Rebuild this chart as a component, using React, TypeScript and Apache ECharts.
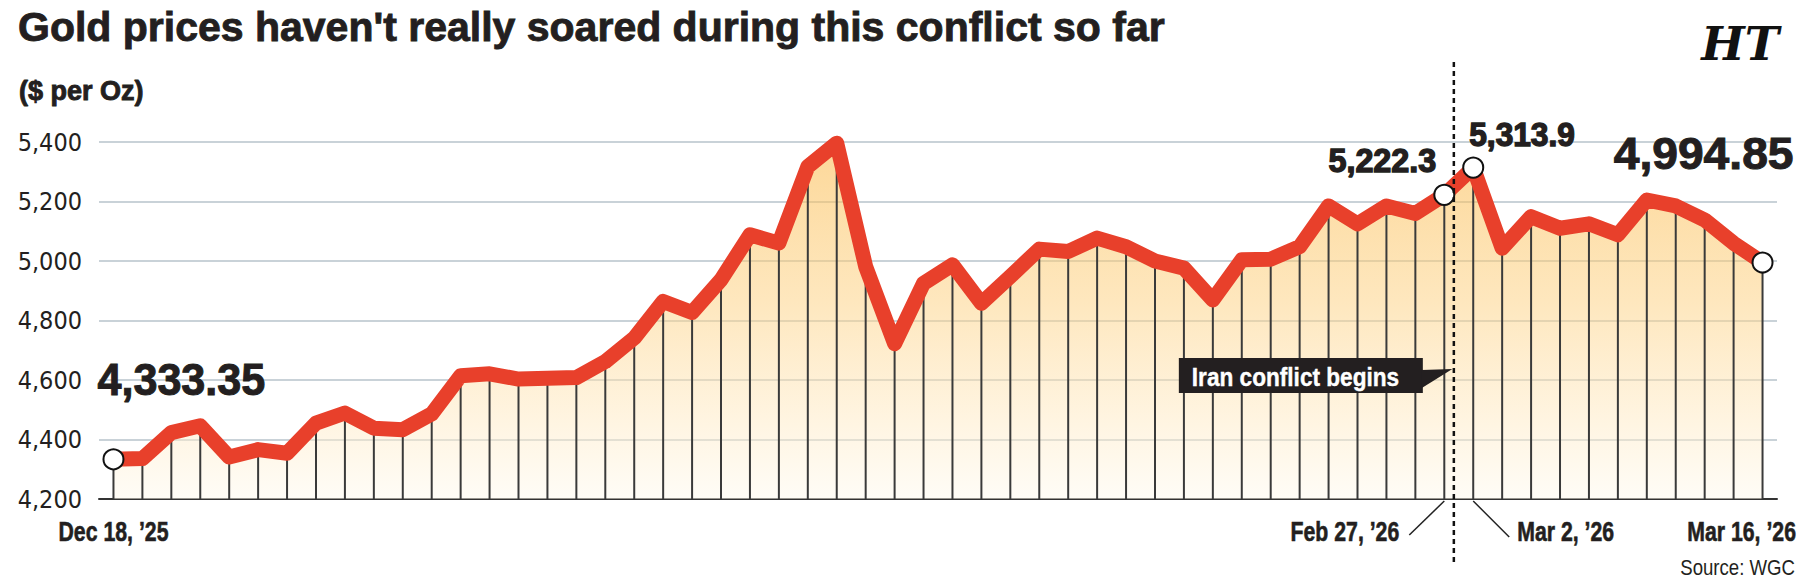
import React, { useEffect, useRef } from "react";
import * as echarts from "echarts";

// Gold price, $ per Oz, daily (Dec 18 '25 .. Mar 16 '26)
const prices: number[] = [
  4333.35, 4336, 4423, 4446, 4341, 4366, 4354, 4455, 4489, 4438,
  4433, 4486, 4614, 4621, 4603, 4606, 4608, 4662, 4741, 4864,
  4827, 4937, 5088, 5060, 5317, 5396, 4981, 4722, 4925, 4987,
  4858, 4948, 5040, 5032, 5077, 5048, 5000, 4976, 4869, 5004,
  5006, 5048, 5185, 5125, 5185, 5160, 5222.3, 5313.9, 5043, 5149,
  5110, 5125, 5088, 5205, 5185, 5138, 5060, 4994.85,
];
const categories: string[] = prices.map((_, i) => "day" + (i + 1));
const dateLabels: { index: number; text: string }[] = [
  { index: 0, text: "Dec 18, \u201925" },
  { index: 46, text: "Feb 27, \u201926" },
  { index: 47, text: "Mar 2, \u201926" },
  { index: 57, text: "Mar 16, \u201926" },
];
const highlighted: number[] = [0, 46, 47, 57];
const yTicks = { min: 4200, max: 5400, interval: 200 };

const TITLE = "Gold prices haven't really soared during this conflict so far";
const SUBTITLE = "($ per Oz)";
const ANNOTATION = "Iran conflict begins";
const SOURCE = "Source: WGC";

const WIDE = "'Liberation Sans', Arial, sans-serif";
const NARROW = "'DejaVu Sans Condensed', 'Liberation Sans Narrow', sans-serif";
const INK = "#231f20";

export default function App() {
  const ref = useRef<HTMLDivElement>(null);
  useEffect(() => {
    document.body.style.margin = "0";
    const chart = echarts.init(ref.current!, null, { renderer: "svg" });

    const option: any = {
      animation: false,
      backgroundColor: "#ffffff",
      grid: { left: 99, right: 24, top: 142, bottom: 88, containLabel: false, outerBoundsMode: "none" },
      xAxis: {
        type: "category",
        data: categories,
        boundaryGap: true,
        axisLine: { show: true, lineStyle: { color: "#333", width: 2 } },
        axisTick: { show: false },
        axisLabel: { show: false },
        splitLine: { show: false },
      },
      yAxis: {
        type: "value",
        min: yTicks.min,
        max: yTicks.max,
        interval: yTicks.interval,
        startValue: yTicks.min,
        axisLine: { show: false },
        axisTick: { show: false },
        axisLabel: {
          color: INK,
          fontFamily: NARROW,
          fontSize: 25,
          margin: 17,
          formatter: (v: number) => v.toLocaleString("en-US"),
        },
        splitLine: { show: true, lineStyle: { color: "#c9d2d8", width: 2 } },
      },
      series: [
        {
          type: "line",
          data: prices,
          z: 1,
          symbol: "none",
          lineStyle: { width: 0 },
          areaStyle: {
            origin: "start",
            color: new echarts.graphic.LinearGradient(0, 0, 0, 1, [
              { offset: 0, color: "rgba(251,186,76,0.82)" },
              { offset: 0.45, color: "rgba(253,210,132,0.75)" },
              { offset: 0.8, color: "rgba(255,235,198,0.7)" },
              { offset: 1, color: "rgba(255,250,238,0.7)" },
            ]),
          },
          silent: true,
        },
        {
          type: "bar",
          data: prices,
          z: 2,
          barWidth: 2,
          clip: true,
          itemStyle: { color: "#3a3a3a" },
          silent: true,
        },
        {
          type: "line",
          data: prices,
          z: 3,
          symbol: "none",
          lineStyle: { width: 15, color: "#e8402b", join: "round", cap: "round" },
          silent: true,
        },
        {
          type: "scatter",
          z: 4,
          symbol: "circle",
          symbolSize: 20,
          itemStyle: { color: "#ffffff", borderColor: "#111", borderWidth: 2, opacity: 1 },
          data: highlighted.map((i) => [i, prices[i]]),
          silent: true,
        },
      ],
    };
    chart.setOption(option);

    const px = (i: number, v: number) => chart.convertToPixel({ gridIndex: 0 }, [i, v]) as number[];
    const [x46, axisY] = px(46, yTicks.min);
    const [x47] = px(47, yTicks.min);
    const dashX = x46 + (x47 - x46) * 0.33;
    const boxRight = dashX - 31;
    const boxLeft = boxRight - 244;
    const boxTop = 358;
    const boxH = 35;

    const txt = (x: number, y: number, text: string, size: number, opts: any = {}) => {
      const fill = opts.fill ?? INK;
      const weight = opts.weight ?? "bold";
      const heavy = opts.heavy ?? (weight === "bold" ? 0.9 : 0);
      return {
        type: "text",
        z: opts.z ?? 12,
        x,
        y,
        scaleX: opts.scaleX ?? 1,
        style: {
          text,
          fontFamily: opts.family ?? WIDE,
          fontWeight: weight,
          fontStyle: opts.style ?? "normal",
          fontSize: size,
          fill,
          stroke: heavy > 0 ? fill : undefined,
          lineWidth: heavy,
          align: opts.align ?? "left",
          verticalAlign: "middle",
        },
      };
    };

    const graphics: any[] = [
      txt(18, 27, TITLE, 41),
      txt(19, 91, SUBTITLE, 27),
      txt(1779, 44, "HT", 46, { family: "'DejaVu Serif', serif", style: "italic", align: "right", fill: "#111", heavy: 0 }),
      {
        type: "line",
        z: 10,
        shape: { x1: dashX, y1: 62, x2: dashX, y2: 562 },
        style: { stroke: "#111", lineWidth: 2.5, lineDash: [5, 4] },
      },
      {
        type: "rect",
        z: 10,
        shape: { x: boxLeft, y: boxTop, width: boxRight - boxLeft, height: boxH },
        style: { fill: "#231f20" },
      },
      {
        type: "polygon",
        z: 10,
        shape: { points: [[boxRight - 1, boxTop + 12], [dashX - 1.5, boxTop + 11], [boxRight - 1, boxTop + 30]] },
        style: { fill: "#231f20" },
      },
      txt(boxLeft + 13, boxTop + boxH / 2 + 1, ANNOTATION, 26, { fill: "#ffffff", scaleX: 0.87, z: 11, heavy: 0.4 }),
      {
        type: "line",
        z: 10,
        shape: { x1: x46, y1: axisY + 2, x2: x46 - 35, y2: axisY + 36 },
        style: { stroke: "#222", lineWidth: 1.5 },
      },
      {
        type: "line",
        z: 10,
        shape: { x1: x47, y1: axisY + 2, x2: x47 + 36, y2: axisY + 38 },
        style: { stroke: "#222", lineWidth: 1.5 },
      },
      txt(1795, 567, SOURCE, 23, { weight: "normal", align: "right", scaleX: 0.81 }),
    ];

    // value annotations next to highlighted points
    const valueLabelStyles: Record<number, { size: number; dx: number; dy: number; align: string; scaleX: number; heavy: number }> = {
      0: { size: 44, dx: -16, dy: -79, align: "left", scaleX: 0.98, heavy: 1 },
      46: { size: 33, dx: -8, dy: -34, align: "right", scaleX: 0.98, heavy: 1.4 },
      47: { size: 33, dx: -4, dy: -33, align: "left", scaleX: 0.96, heavy: 1.4 },
      57: { size: 44, dx: 31, dy: -109, align: "right", scaleX: 1.05, heavy: 1 },
    };
    highlighted.forEach((i) => {
      const [x, y] = px(i, prices[i]);
      const s = valueLabelStyles[i];
      graphics.push(txt(x + s.dx, y + s.dy, prices[i].toLocaleString("en-US"), s.size, { align: s.align, scaleX: s.scaleX, heavy: s.heavy }));
    });

    dateLabels.forEach(({ index, text }) => {
      const [x] = px(index, yTicks.min);
      let tx = x;
      let align = "center";
      if (index === 46) { tx = x - 45; align = "right"; }
      else if (index === 47) { tx = x + 44; align = "left"; }
      else if (index === prices.length - 1) { tx = 1796; align = "right"; }
      graphics.push(txt(tx, axisY + 32, text, 28, { align, scaleX: 0.76, heavy: 0.6 }));
    });

    chart.setOption({ graphic: graphics });
    return () => chart.dispose();
  }, []);
  return <div ref={ref} style={{ width: 1801, height: 587 }} />;
}
